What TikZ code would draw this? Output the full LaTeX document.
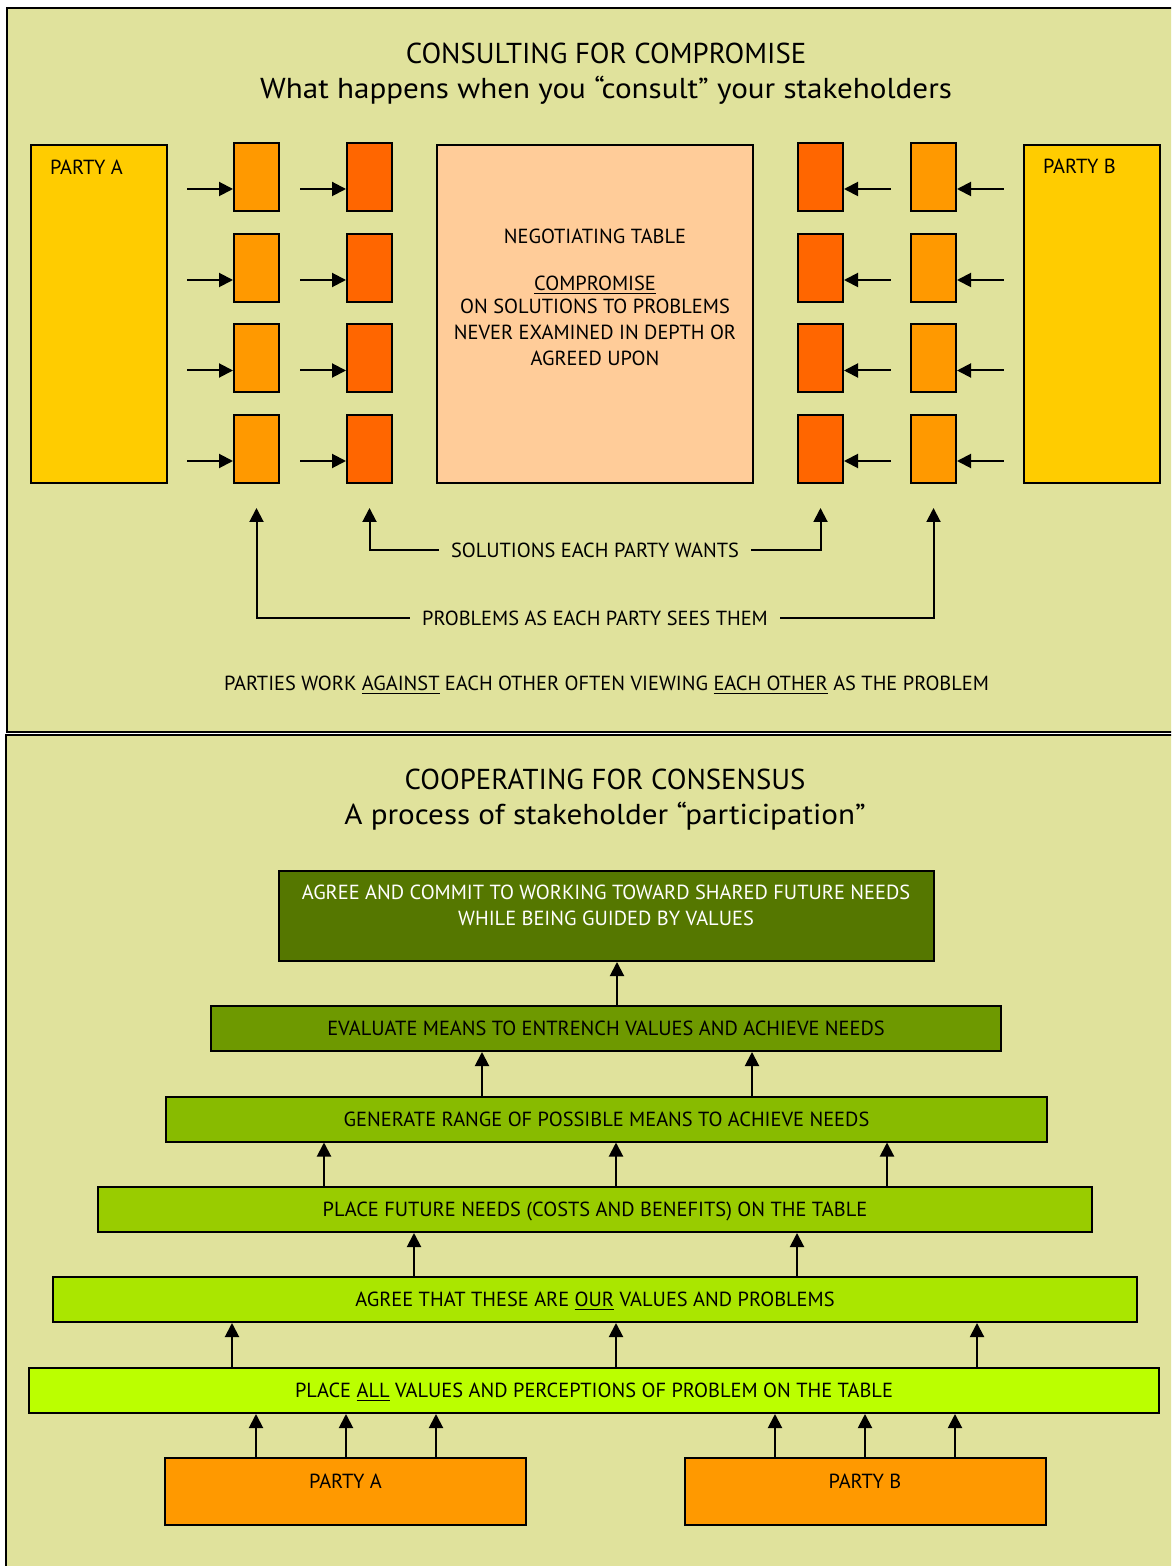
\documentclass[tikz,border=0pt]{standalone}
\usepackage{fontspec}
\setmainfont{PT Sans}
\newfontfamily\subheadfont[FakeStretch=1.08]{PT Sans}
\usetikzlibrary{arrows.meta}

\definecolor{panelbg}{HTML}{E0E29C}
\definecolor{partyyellow}{HTML}{FFCC00}
\definecolor{probsorange}{HTML}{FF9900}
\definecolor{solsred}{HTML}{FF6600}
\definecolor{tablepeach}{HTML}{FFCC99}
\definecolor{stepA}{HTML}{557700}
\definecolor{stepB}{HTML}{6E9900}
\definecolor{stepC}{HTML}{88BB00}
\definecolor{stepD}{HTML}{99CC00}
\definecolor{stepE}{HTML}{AAE600}
\definecolor{stepF}{HTML}{BBFF00}

\begin{document}
\begin{tikzpicture}[
		x=0.5pt, y=-0.5pt,
		font=\fontsize{10.2}{13}\selectfont,
		tip/.tip={Triangle[length=7pt,width=7pt]},
		panel/.style={draw=black,line width=1pt,fill=panelbg},
		boxed/.style={draw=black,line width=1pt,inner sep=0pt},
		party/.style={boxed,fill=partyyellow,minimum width=68pt,minimum height=169pt},
		probbox/.style={boxed,fill=probsorange,minimum width=22.5pt,minimum height=34pt},
		solbox/.style={boxed,fill=solsred,minimum width=22.5pt,minimum height=34pt},
		link/.style={-tip,line width=1pt},
		feed/.style={tip-,line width=1pt},
		heading/.style={font=\fontsize{14.4}{17.5}\selectfont,align=center},
		caption/.style={inner xsep=6pt},
		stepbar/.style={boxed,minimum height=22.5pt,text height=7.1pt,text depth=0pt},
		stakeholder/.style={boxed,fill=probsorange,minimum width=180.5pt,minimum height=33.5pt,text depth=10pt},
	]
	\useasboundingbox (0,0) rectangle (1171,1566);
	\clip (0,0) rectangle (1171,1566);

	% ---------- consulting for compromise ----------
	\draw[panel] (7,8) rectangle (1190,732);
	\node[heading] (toptitle) at (606,73.5) {CONSULTING FOR COMPROMISE\\{\subheadfont What happens when you “consult” your stakeholders}};

	\node[party] (partyA) at (98.5,314) {};
	\node[anchor=west] (partyAname) at (43,167) {PARTY A};
	\node[party] (partyB) at (1092,314) {};
	\node[anchor=west] (partyBname) at (1036,166) {PARTY B};

	\foreach \r/\y in {1/177,2/268,3/358.5,4/449}{
		\node[probbox] (pa\r) at (256.5,\y) {};
		\node[solbox]  (sa\r) at (369.5,\y) {};
		\node[solbox]  (sb\r) at (820.5,\y) {};
		\node[probbox] (pb\r) at (933.5,\y) {};
		\draw[feed] ([yshift=-6pt]pa\r.west) -- ++(-46,0);
		\draw[feed] ([yshift=-6pt]sa\r.west) -- ++(-46,0);
		\draw[feed] ([yshift=-6pt]sb\r.east) -- ++(47,0);
		\draw[feed] ([yshift=-6pt]pb\r.east) -- ++(47,0);
	}

	\node[boxed,fill=tablepeach,minimum width=158pt,minimum height=169pt] (table) at (595,314) {};
	\node[align=center] (tabletext) at (595,297) {NEGOTIATING TABLE\\[10.5pt]\underline{COMPROMISE}\\[-1.5pt]ON SOLUTIONS TO PROBLEMS\\NEVER EXAMINED IN DEPTH OR\\AGREED UPON};

	\node[caption] (solcap) at (595,550) {SOLUTIONS EACH PARTY WANTS};
	\node[caption] (probcap) at (595,618) {PROBLEMS AS EACH PARTY SEES THEM};
	\draw[link] (solcap.west) -| ([yshift=-12pt]sa4.south);
	\draw[link] (solcap.east) -| ([yshift=-12pt]sb4.south);
	\draw[link] (probcap.west) -| ([yshift=-12pt]pa4.south);
	\draw[link] (probcap.east) -| ([yshift=-12pt]pb4.south);

	\node (against) at (606.5,685) {PARTIES WORK \underline{AGAINST} EACH OTHER OFTEN VIEWING \underline{EACH OTHER} AS THE PROBLEM};

	% ---------- cooperating for consensus ----------
	\draw[panel] (6,735) rectangle (1190,1590);
	\node[heading] (bottitle) at (605,800) {COOPERATING FOR CONSENSUS\\{\subheadfont A process of stakeholder “participation”}};

	\node[boxed,fill=stepA,minimum width=327.5pt,minimum height=45pt] (s1) at (606.5,916) {};
	\node[align=center,text=white] (s1text) at (606,905) {AGREE AND COMMIT TO WORKING TOWARD SHARED FUTURE NEEDS\\WHILE BEING GUIDED BY VALUES};
	\node[stepbar,fill=stepB,minimum width=395pt] (s2) at (606,1028.5) {EVALUATE MEANS TO ENTRENCH VALUES AND ACHIEVE NEEDS};
	\node[stepbar,fill=stepC,minimum width=440.5pt] (s3) at (606.5,1119) {GENERATE RANGE OF POSSIBLE MEANS TO ACHIEVE NEEDS};
	\node[stepbar,fill=stepD,minimum width=497pt] (s4) at (595,1209.5) {PLACE FUTURE NEEDS (COSTS AND BENEFITS) ON THE TABLE};
	\node[stepbar,fill=stepE,minimum width=542pt] (s5) at (595,1299.5) {AGREE THAT THESE ARE \underline{OUR} VALUES AND PROBLEMS};
	\node[stepbar,fill=stepF,minimum width=565pt] (s6) at (594,1390.5) {PLACE \underline{ALL} VALUES AND PERCEPTIONS OF PROBLEM ON THE TABLE};
	\node[stakeholder] (groupA) at (345.5,1491.5) {PARTY A};
	\node[stakeholder] (groupB) at (865,1491.5) {PARTY B};

	\draw[link] (s2.north -| 617,0) -- (s1.south -| 617,0);
	\foreach \x in {482,752} \draw[link] (s3.north -| \x,0) -- (s2.south -| \x,0);
	\foreach \x in {324,616,887} \draw[link] (s4.north -| \x,0) -- (s3.south -| \x,0);
	\foreach \x in {414,797} \draw[link] (s5.north -| \x,0) -- (s4.south -| \x,0);
	\foreach \x in {232,616,977} \draw[link] (s6.north -| \x,0) -- (s5.south -| \x,0);
	\foreach \x in {256,346,436} \draw[link] (groupA.north -| \x,0) -- (s6.south -| \x,0);
	\foreach \x in {775,865,955} \draw[link] (groupB.north -| \x,0) -- (s6.south -| \x,0);

\end{tikzpicture}
\end{document}
